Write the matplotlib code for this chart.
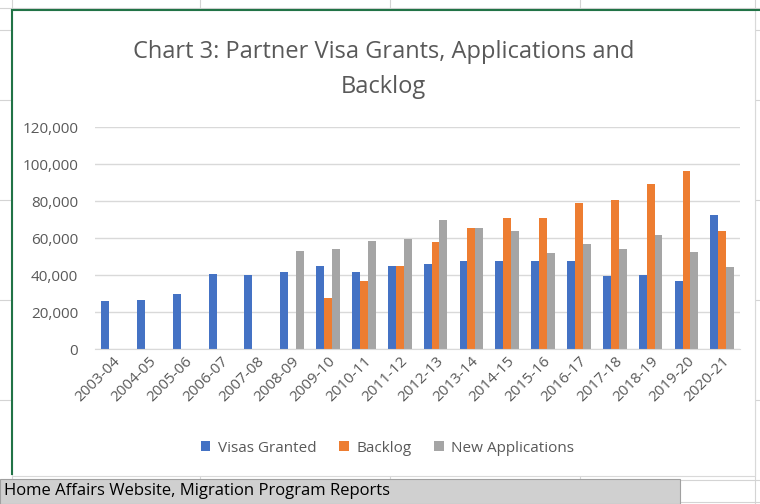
import numpy as np
import matplotlib
matplotlib.use('Agg')
import matplotlib.pyplot as plt
from matplotlib.patches import Rectangle

years = ["2003-04", "2004-05", "2005-06", "2006-07", "2007-08", "2008-09", "2009-10",
         "2010-11", "2011-12", "2012-13", "2013-14", "2014-15", "2015-16", "2016-17",
         "2017-18", "2018-19", "2019-20", "2020-21"]
granted = [26000, 26500, 30000, 40500, 40000, 41500, 45000, 41500, 45000, 46000,
           47500, 47500, 47500, 47500, 39500, 40000, 37000, 72500]
backlog = [0, 0, 0, 0, 0, 0, 27500, 37000, 45000, 58000, 65500, 71000, 71000,
           79000, 80500, 89000, 96000, 64000]
new_apps = [0, 0, 0, 0, 0, 53000, 54000, 58500, 59500, 70000, 65500, 64000, 52000,
            56500, 54000, 61500, 52500, 44500]

plt.rcParams['font.family'] = ['Open Sans', 'DejaVu Sans']
fig = plt.figure(figsize=(7.6, 5.04), dpi=100)

# spreadsheet background grid, behind the chart box
for x in [12, 200, 390, 580, 755]:
    fig.add_artist(plt.Line2D([x / 760] * 2, [0, 1], color='#d4d4d4', lw=0.8, zorder=-3))
for y in [8, 30, 100, 200, 300, 400, 480, 502]:
    fig.add_artist(plt.Line2D([0, 1], [1 - y / 504] * 2, color='#d4d4d4', lw=0.8, zorder=-3))
fig.add_artist(Rectangle((12 / 760, 28 / 504), 743 / 760, 466 / 504, transform=fig.transFigure,
                         facecolor='white', edgecolor='#d9d9d9', lw=0.8, zorder=-2))
fig.add_artist(Rectangle((0, 0), 680 / 760, 25 / 504, transform=fig.transFigure,
                         facecolor='#d0d0d0', edgecolor='#a0a0a0', lw=0.8, zorder=-2))
fig.text(4 / 760, 13 / 504, "Home Affairs Website, Migration Program Reports",
         fontsize=12, va='center', color='black')
fig.add_artist(plt.Line2D([12 / 760, 1], [1 - 10 / 504] * 2, color='#217346', lw=1.5, zorder=-1))
fig.add_artist(plt.Line2D([12 / 760] * 2, [0.06, 1 - 10 / 504], color='#217346', lw=1.5, zorder=-1))

ax = fig.add_axes([0.125, 0.3075, 0.849, 0.4405])
ax.set_facecolor('none')
x = np.arange(len(years))
w = 0.22
ax.bar(x - w, granted, w, color='#4472C4', label='Visas Granted')
ax.bar(x, backlog, w, color='#ED7D31', label='Backlog')
ax.bar(x + w, new_apps, w, color='#A5A5A5', label='New Applications')
ax.set_ylim(0, 120000)
ax.set_xlim(-0.5, len(years) - 0.5)
ax.set_yticks(range(0, 120001, 20000))
ax.set_yticklabels([f"{v:,}" for v in range(0, 120001, 20000)])
ax.set_xticks(x)
ax.set_xticklabels(years, rotation=45, ha='right', rotation_mode='anchor')
ax.tick_params(colors='#595959', labelsize=11, length=0)
ax.tick_params(axis='y', pad=12)
ax.grid(axis='y', color='#d9d9d9', lw=1)
ax.set_axisbelow(True)
for s in ['top', 'right', 'left']:
    ax.spines[s].set_visible(False)
ax.spines['bottom'].set_color('#d9d9d9')

fig.text(0.505, 1 - 52 / 504, "Chart 3: Partner Visa Grants, Applications and",
         ha='center', va='center', fontsize=17, color='#595959')
fig.text(0.505, 1 - 87 / 504, "Backlog", ha='center', va='center', fontsize=17, color='#595959')
fig.legend(loc='center', bbox_to_anchor=(0.51, 1 - 448 / 504), ncol=3, frameon=False,
           fontsize=11, labelcolor='#595959', handlelength=0.6, handleheight=0.6,
           columnspacing=1.5, handletextpad=0.5)

fig.savefig('out.png', dpi=100)
